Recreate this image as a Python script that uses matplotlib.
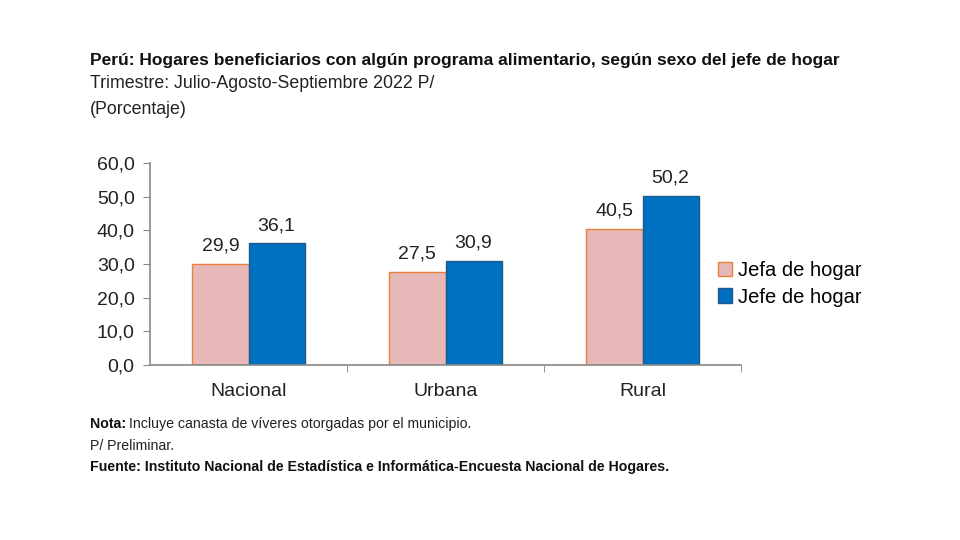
import matplotlib
matplotlib.use("Agg")
import matplotlib.pyplot as plt
import numpy as np

plt.rcParams['font.family'] = ['Liberation Sans', 'DejaVu Sans']

categories = ["Nacional", "Urbana", "Rural"]
jefa = [29.9, 27.5, 40.5]
jefe = [36.1, 30.9, 50.2]
series_names = ["Jefa de hogar", "Jefe de hogar"]
yticks = [0, 10, 20, 30, 40, 50, 60]

fig = plt.figure(figsize=(9.6, 5.4), dpi=100)
ax = fig.add_axes([150/960, 1-365/540, (741-150)/960, (365-163)/540])

x = np.arange(len(categories))
w = 0.285
b1 = ax.bar(x - w/2, jefa, w, color="#E6B9B8", edgecolor="#E8823A", linewidth=1.0, label=series_names[0])
b2 = ax.bar(x + w/2, jefe, w, color="#0070C0", edgecolor="#1F5A8C", linewidth=1.0, label=series_names[1])

def fmt(v):
    return f"{v:.1f}".replace(".", ",")

for bars, vals in ((b1, jefa), (b2, jefe)):
    for r, v in zip(bars, vals):
        ax.text(r.get_x() + r.get_width()/2, v + 2.8, fmt(v), ha="center", va="bottom",
                fontsize=14, color="#222222")

ax.set_xlim(-0.5, 2.5)
ax.set_ylim(0, 60)
ax.set_yticks(yticks)
ax.set_yticklabels([fmt(t) for t in yticks], fontsize=14, color="#222222")
ax.set_xticks(x)
ax.set_xticklabels(categories, fontsize=14, color="#222222")
ax.tick_params(axis="x", length=0, pad=13)
ax.set_xticks([0.5, 1.5, 2.5], minor=True)
ax.tick_params(axis="x", which="minor", length=5, color="#888888", direction="out")
ax.tick_params(axis="y", length=5, color="#888888", direction="out", pad=6)
for s in ("top", "right"):
    ax.spines[s].set_visible(False)
for s in ("left", "bottom"):
    ax.spines[s].set_color("#888888")
    ax.spines[s].set_linewidth(1.2)

fig.legend(handles=[b1, b2], loc="center left", bbox_to_anchor=(710/960, 1-284/540),
           frameon=False, fontsize=14.5, handlelength=0.7, handleheight=0.7,
           handletextpad=0.3, labelspacing=0.35, borderaxespad=0)

fig.text(90/960, 1-60/540, "Perú: Hogares beneficiarios con algún programa alimentario, según sexo del jefe de hogar",
         fontsize=12.5, fontweight="bold", va="center", color="#111111")
fig.text(90/960, 1-84/540, "Trimestre: Julio-Agosto-Septiembre 2022 P/", fontsize=12.8, va="center", color="#222222")
fig.text(90/960, 1-109/540, "(Porcentaje)", fontsize=12.8, va="center", color="#222222")

nota = fig.text(90/960, 1-424/540, "Nota:", fontsize=10.2, va="center", fontweight="bold", color="#111111")
fig.canvas.draw()
bb = nota.get_window_extent(renderer=fig.canvas.get_renderer())
fig.text(bb.x1/960 + 3/960, 1-424/540, "Incluye canasta de víveres otorgadas por el municipio.",
         fontsize=10.2, va="center", color="#222222")
fig.text(90/960, 1-446/540, "P/ Preliminar.", fontsize=10.2, va="center", color="#222222")
fig.text(90/960, 1-467/540, "Fuente: Instituto Nacional de Estadística e Informática-Encuesta Nacional de Hogares.",
         fontsize=10.2, va="center", fontweight="bold", color="#111111")

fig.savefig("out.png", dpi=100, facecolor="white")
